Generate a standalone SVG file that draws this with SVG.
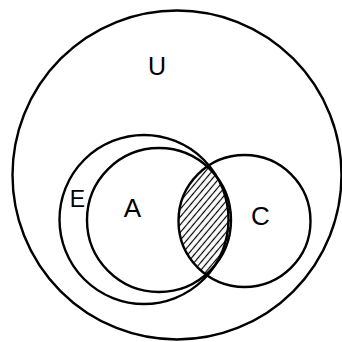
<svg xmlns="http://www.w3.org/2000/svg" width="342" height="342" viewBox="0 0 342 342">
  <style>
    .set { fill: none; stroke: #000; stroke-width: 2.4; }
    .lbl { font-family: "Liberation Sans", Arial, sans-serif; fill: #000; text-anchor: middle; }
  </style>
  <defs>
    <pattern id="hatch" patternUnits="userSpaceOnUse" width="5" height="10" patternTransform="rotate(40)">
      <line x1="2.5" y1="0" x2="2.5" y2="10" stroke="#000" stroke-width="1.2"/>
    </pattern>
    <clipPath id="clipA"><circle cx="159" cy="220" r="72"/></clipPath>
    <clipPath id="clipC"><circle cx="244.5" cy="221" r="66"/></clipPath>
  </defs>
  <rect width="342" height="342" fill="#fff"/>
  <g id="hatched-intersection" clip-path="url(#clipA)">
    <rect x="150" y="140" width="120" height="160" fill="url(#hatch)" clip-path="url(#clipC)"/>
  </g>
  <g id="U">
    <circle class="set" cx="177" cy="175" r="164.5"/>
    <text class="lbl" x="157" y="75" font-size="25">U</text>
  </g>
  <g id="E">
    <circle class="set" cx="144" cy="219.5" r="84.5"/>
    <text class="lbl" x="77.5" y="207" font-size="23">E</text>
  </g>
  <g id="A">
    <circle class="set" cx="159" cy="220" r="72"/>
    <text class="lbl" x="132.5" y="217" font-size="26">A</text>
  </g>
  <g id="C">
    <circle class="set" cx="244.5" cy="221" r="66"/>
    <text class="lbl" x="260.5" y="225" font-size="26">C</text>
  </g>
</svg>
